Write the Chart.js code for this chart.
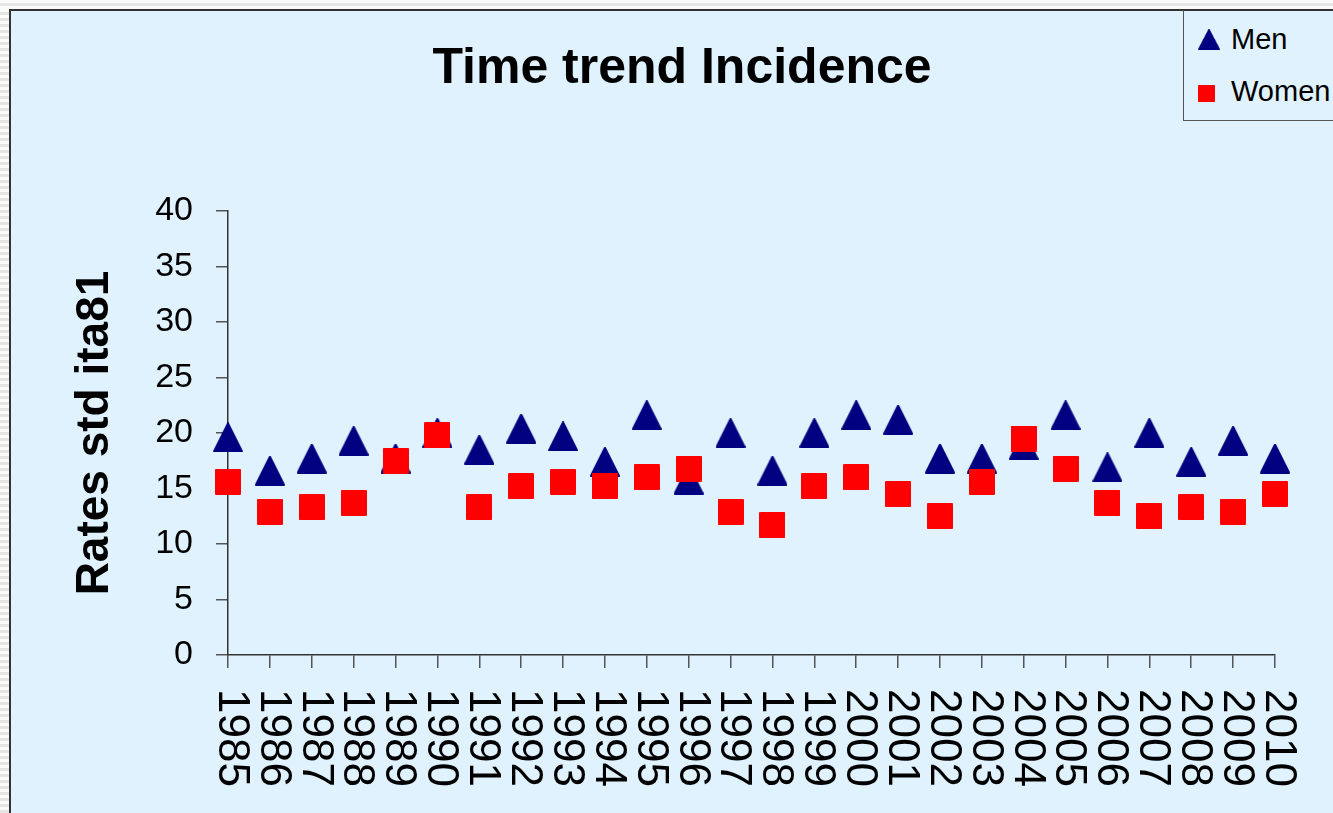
<!DOCTYPE html>
<html>
<head>
<meta charset="utf-8">
<script src="https://cdn.jsdelivr.net/npm/chart.js@4"></script>
<style>
  html, body { margin: 0; padding: 0; width: 1333px; height: 813px; overflow: hidden; background: #fff; }
  #strip { position: absolute; left: 0; top: 0; width: 9px; height: 813px;
           background: repeating-linear-gradient(to bottom, #e4e4e4 0 3px, #fafafa 3px 6px); }
  #topstrip { position: absolute; left: 0; top: 0; width: 1333px; height: 9px;
              background: linear-gradient(to bottom, #fafafa 0 3px, #e6e6e6 3px 6px, #fafafa 6px 9px); }
  #frame { position: absolute; left: 9px; top: 9px; width: 1324px; height: 804px; box-sizing: border-box;
           border-left: 2px solid #333; border-top: 2px solid #333; background: #dff2fd; }
  #frame canvas { position: absolute; left: 0; top: 0; }
  #legend { position: absolute; left: 1183px; top: 9px; width: 170px; height: 112px; box-sizing: border-box;
            border: 1px solid #555; border-top: 2px solid #333; background: #dff2fd;
            font-family: "Liberation Sans", Arial, sans-serif; font-size: 29px; line-height: 33px; color: #000; }
  .item { position: absolute; left: 0; top: 0; }
  .item canvas { position: absolute; }
  .item span { position: absolute; left: 47px; white-space: nowrap; }
</style>
</head>
<body>
<div id="strip"></div>
<div id="topstrip"></div>
<div id="frame"><canvas id="myChart" width="1322" height="802"></canvas></div>
<div id="legend"></div>
<script>
  const years = ['1985', '1986', '1987', '1988', '1989', '1990', '1991', '1992', '1993', '1994', '1995', '1996', '1997',
                 '1998', '1999', '2000', '2001', '2002', '2003', '2004', '2005', '2006', '2007', '2008', '2009', '2010'];
  const men = [19.6, 16.6, 17.7, 19.3, 17.7, 20.0, 18.5, 20.4, 19.7, 17.4, 21.6, 15.8, 20.0,
               16.6, 20.0, 21.6, 21.2, 17.7, 17.7, 18.9, 21.6, 16.9, 20.0, 17.4, 19.3, 17.7];
  const women = [15.6, 12.9, 13.3, 13.7, 17.5, 19.8, 13.3, 15.2, 15.6, 15.2, 16.0, 16.8, 12.9,
                 11.7, 15.2, 16.0, 14.5, 12.5, 15.6, 19.5, 16.8, 13.7, 12.5, 13.3, 12.9, 14.5];
  const seriesNames = ['Men', 'Women'];
  const yTicks = [0, 40, 5]; // min, max, step

  const FONT = '"Liberation Sans", Arial, sans-serif';

  // excel-like markers, centred on their box
  function makeMarker(shape, w, h, color) {
    const c = document.createElement('canvas');
    c.width = w; c.height = h;
    const g = c.getContext('2d');
    g.fillStyle = color; g.strokeStyle = color;
    g.lineWidth = 2; g.lineJoin = 'round';
    g.beginPath();
    if (shape === 'triangle') {
      g.moveTo(w / 2, 1); g.lineTo(w - 1, h - 1); g.lineTo(1, h - 1);
    } else {
      g.rect(1, 1, w - 2, h - 2);
    }
    g.closePath(); g.fill(); g.stroke();
    return c;
  }

  const menMarker = makeMarker('triangle', 30, 30, '#000080');
  const womenMarker = makeMarker('rect', 26, 26, '#ff0000');

  // rotated year labels, reading top to bottom
  const yearLabels = {
    id: 'yearLabels',
    afterDraw(chart) {
      const xs = chart.scales.x, ctx = chart.ctx;
      ctx.save();
      ctx.font = '44px ' + FONT;
      ctx.fillStyle = '#000';
      ctx.textAlign = 'left';
      ctx.textBaseline = 'middle';
      years.forEach((yr, i) => {
        ctx.save();
        ctx.translate(xs.getPixelForTick(i) + 3, xs.top + 34);
        ctx.rotate(Math.PI / 2);
        ctx.fillText(yr, 0, 0);
        ctx.restore();
      });
      ctx.restore();
    }
  };

  const ctx = document.getElementById('myChart');

  new Chart(ctx, {
    type: 'line',
    data: {
      labels: years,
      datasets: [{
        label: seriesNames[0],
        data: men,
        showLine: false,
        pointStyle: menMarker,
        pointRadius: 15,
        pointHoverRadius: 15,
        order: 1
      }, {
        label: seriesNames[1],
        data: women,
        showLine: false,
        pointStyle: womenMarker,
        pointRadius: 13,
        pointHoverRadius: 13,
        order: 0
      }]
    },
    options: {
      responsive: false,
      animation: false,
      events: [],
      layout: { padding: { left: 78, right: 58, top: 0, bottom: 0 } },
      plugins: {
        legend: { display: false },
        tooltip: { enabled: false },
        title: {
          display: true,
          text: 'Time trend Incidence',
          color: '#000',
          font: { family: FONT, size: 50, weight: 'bold', lineHeight: 1.2 },
          padding: { top: 28, bottom: 112 }
        }
      },
      scales: {
        x: {
          type: 'category',
          offset: false,
          grid: { drawOnChartArea: false, tickLength: 13, color: '#555', lineWidth: 1.5 },
          border: { color: '#333', width: 1.5 },
          ticks: { display: false, autoSkip: false },
          afterFit(scale) { scale.height = 158; }
        },
        y: {
          min: yTicks[0],
          max: yTicks[1],
          grid: { drawOnChartArea: false, tickLength: 12, color: '#555', lineWidth: 1.5 },
          border: { color: '#333', width: 1.5 },
          ticks: { stepSize: yTicks[2], color: '#000', padding: 23, font: { family: FONT, size: 34 } },
          title: {
            display: true,
            text: 'Rates std ita81',
            color: '#000',
            font: { family: FONT, size: 46, weight: 'bold', lineHeight: 1.2 },
            padding: { top: -21.6, bottom: 0 }
          },
          afterFit(scale) { scale.width = 139; }
        }
      }
    },
    plugins: [yearLabels]
  });

  // legend box
  const legend = document.getElementById('legend');
  [[menMarker, 22, 21, 18, 12], [womenMarker, 17, 17, 74, 64]].forEach(([src, w, h, top, textTop], i) => {
    const item = document.createElement('div');
    item.className = 'item';
    const m = document.createElement('canvas');
    m.width = w; m.height = h;
    m.getContext('2d').drawImage(src, 0, 0, w, h);
    m.style.left = '14px';
    m.style.top = top + 'px';
    const s = document.createElement('span');
    s.textContent = seriesNames[i];
    s.style.top = textTop + 'px';
    item.appendChild(m);
    item.appendChild(s);
    legend.appendChild(item);
  });
</script>
</body>
</html>
